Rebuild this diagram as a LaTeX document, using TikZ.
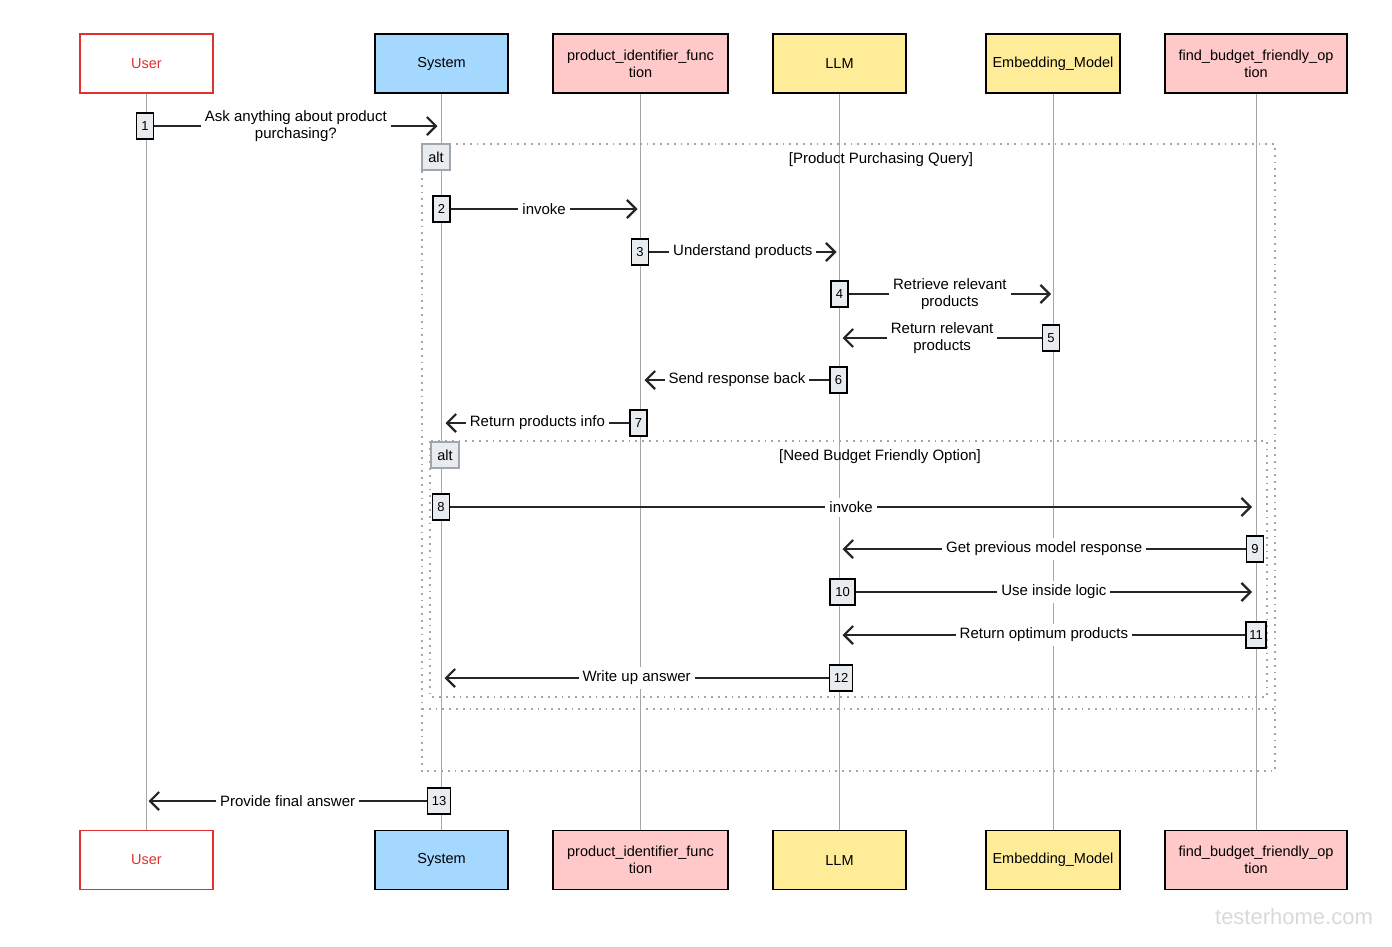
\documentclass[tikz,border=0pt]{standalone}
\usepackage{fontspec}
\setmainfont{Liberation Sans}
\usetikzlibrary{arrows.meta,positioning,calc}
\definecolor{sysblue}{HTML}{A5D8FF}
\definecolor{funcpink}{HTML}{FFC9C9}
\definecolor{modelyellow}{HTML}{FFEC99}
\definecolor{userred}{HTML}{E03131}
\definecolor{actgray}{HTML}{E9ECEF}
\definecolor{framegray}{HTML}{A0A6AC}

\begin{document}
\begin{tikzpicture}[x=1pt,y=-1pt,
    actor/.style={draw,line width=1.6pt,minimum width=133pt,minimum height=59pt,
                  align=center,inner sep=2pt,font=\fontsize{14.5}{17}\selectfont},
    act/.style={draw,line width=1.4pt,fill=actgray,minimum width=17pt,minimum height=26pt,
                inner sep=1pt,font=\fontsize{13}{15}\selectfont},
    msg/.style={-{Straight Barb[length=9pt,width=18pt,line width=2.2pt]},line width=2.2pt,black!85},
    lbl/.style={fill=white,inner sep=4pt,align=center,text=black,font=\fontsize{15}{17}\selectfont},
    life/.style={gray!70,line width=0.8pt},
    frame/.style={framegray,line width=1.9pt,dash pattern=on 1.8pt off 5pt},
    altbox/.style={draw=framegray,fill=actgray,line width=1.2pt,minimum width=28pt,
                   minimum height=26pt,inner sep=1pt,font=\fontsize{14.5}{17}\selectfont},
    cond/.style={font=\fontsize{15}{17}\selectfont}]
  \useasboundingbox (0,0) rectangle (1392,946);

  % participants, top row
  \node(usr) at (146.5,63.5) [actor,draw=userred,text=userred,fill=white] {User};
  \node(sys) at (441.5,63.5) [actor,fill=sysblue] {System};
  \node(pif) at (640.5,63.5) [actor,fill=funcpink,minimum width=175pt] {product\_identifier\_func\\tion};
  \node(llm) at (839.5,63.5) [actor,fill=modelyellow] {LLM};
  \node(emb) at (1053,63.5) [actor,fill=modelyellow,minimum width=134pt] {Embedding\_Model};
  \node(fbf) at (1256,63.5) [actor,fill=funcpink,minimum width=182pt] {find\_budget\_friendly\_op\\tion};

  % participants, bottom row
  \node(usrb) at (146.5,860) [actor,draw=userred,text=userred,fill=white] {User};
  \node(sysb) at (441.5,860) [actor,fill=sysblue] {System};
  \node(pifb) at (640.5,860) [actor,fill=funcpink,minimum width=175pt] {product\_identifier\_func\\tion};
  \node(llmb) at (839.5,860) [actor,fill=modelyellow] {LLM};
  \node(embb) at (1053,860) [actor,fill=modelyellow,minimum width=134pt] {Embedding\_Model};
  \node(fbfb) at (1256,860) [actor,fill=funcpink,minimum width=182pt] {find\_budget\_friendly\_op\\tion};

  % lifelines
  \draw[life] (usr.south) -- (usrb.north);
  \draw[life] (sys.south) -- (sysb.north);
  \draw[life] (pif.south) -- (pifb.north);
  \draw[life] (llm.south) -- (llmb.north);
  \draw[life] (emb.south) -- (embb.north);
  \draw[life] (fbf.south) -- (fbfb.north);

  % alt frames
  \draw[frame] (422,144) rectangle (1275,771);
  \draw[frame] (422,709) -- (1275,709);
  \node(alt1) at (436,157) [altbox] {alt};
  \node(cond1) at (881,160) [cond] {[Product Purchasing Query]};

  \draw[frame] (430,441) rectangle (1267,697);
  \node(alt2) at (445,455) [altbox] {alt};
  \node(cond2) at (880,457) [cond] {[Need Budget Friendly Option]};

  % activations
  \node(a1) at (145,126) [act] {1};
  \node(a2) at (441.5,209) [act] {2};
  \node(a3) at (640,252) [act] {3};
  \node(a4) at (839.5,294) [act] {4};
  \node(a5) at (1051,338) [act] {5};
  \node(a6) at (838.5,380) [act] {6};
  \node(a7) at (638.5,423) [act] {7};
  \node(a8) at (441,507) [act] {8};
  \node(a9) at (1255,549) [act] {9};
  \node(a10) at (842.5,592) [act,minimum width=25pt] {10};
  \node(a11) at (1256,635) [act,minimum width=20pt] {11};
  \node(a12) at (841,678) [act,minimum width=23pt] {12};
  \node(a13) at (439,801) [act,minimum width=23pt] {13};

  % messages
  \draw[msg] (a1.east) -- node[lbl]{Ask anything about product\\purchasing?} ($(a1 -| sys.center)+(-4,0)$);
  \draw[msg] (a2.east) -- node[lbl]{invoke} ($(a2 -| pif.center)+(-3,0)$);
  \draw[msg] (a3.east) -- node[lbl]{Understand products} ($(a3 -| llm.center)+(-3,0)$);
  \draw[msg] (a4.east) -- node[lbl]{Retrieve relevant\\products} ($(a4 -| emb.center)+(-2,0)$);
  \draw[msg] (a5.west) -- node[lbl]{Return relevant\\products} ($(a5 -| llm.center)+(3,0)$);
  \draw[msg] (a6.west) -- node[lbl]{Send response back} ($(a6 -| pif.center)+(4,0)$);
  \draw[msg] (a7.west) -- node[lbl]{Return products info} ($(a7 -| sys.center)+(4,0)$);
  \draw[msg] (a8.east) -- node[lbl]{invoke} ($(a8 -| fbf.center)+(-4,0)$);
  \draw[msg] (a9.west) -- node[lbl]{Get previous model response} ($(a9 -| llm.center)+(3,0)$);
  \draw[msg] (a10.east) -- node[lbl]{Use inside logic} ($(a10 -| fbf.center)+(-4,0)$);
  \draw[msg] (a11.west) -- node[lbl]{Return optimum products} ($(a11 -| llm.center)+(3,0)$);
  \draw[msg] (a12.west) -- node[lbl]{Write up answer} ($(a12 -| sys.center)+(3,0)$);
  \draw[msg] (a13.west) -- node[lbl]{Provide final answer} ($(a13 -| usr.center)+(2,0)$);

  % watermark
  \node(wm) at (1294,917) [text=gray!30,font=\fontsize{22}{24}\selectfont] {testerhome.com};
\end{tikzpicture}
\end{document}
